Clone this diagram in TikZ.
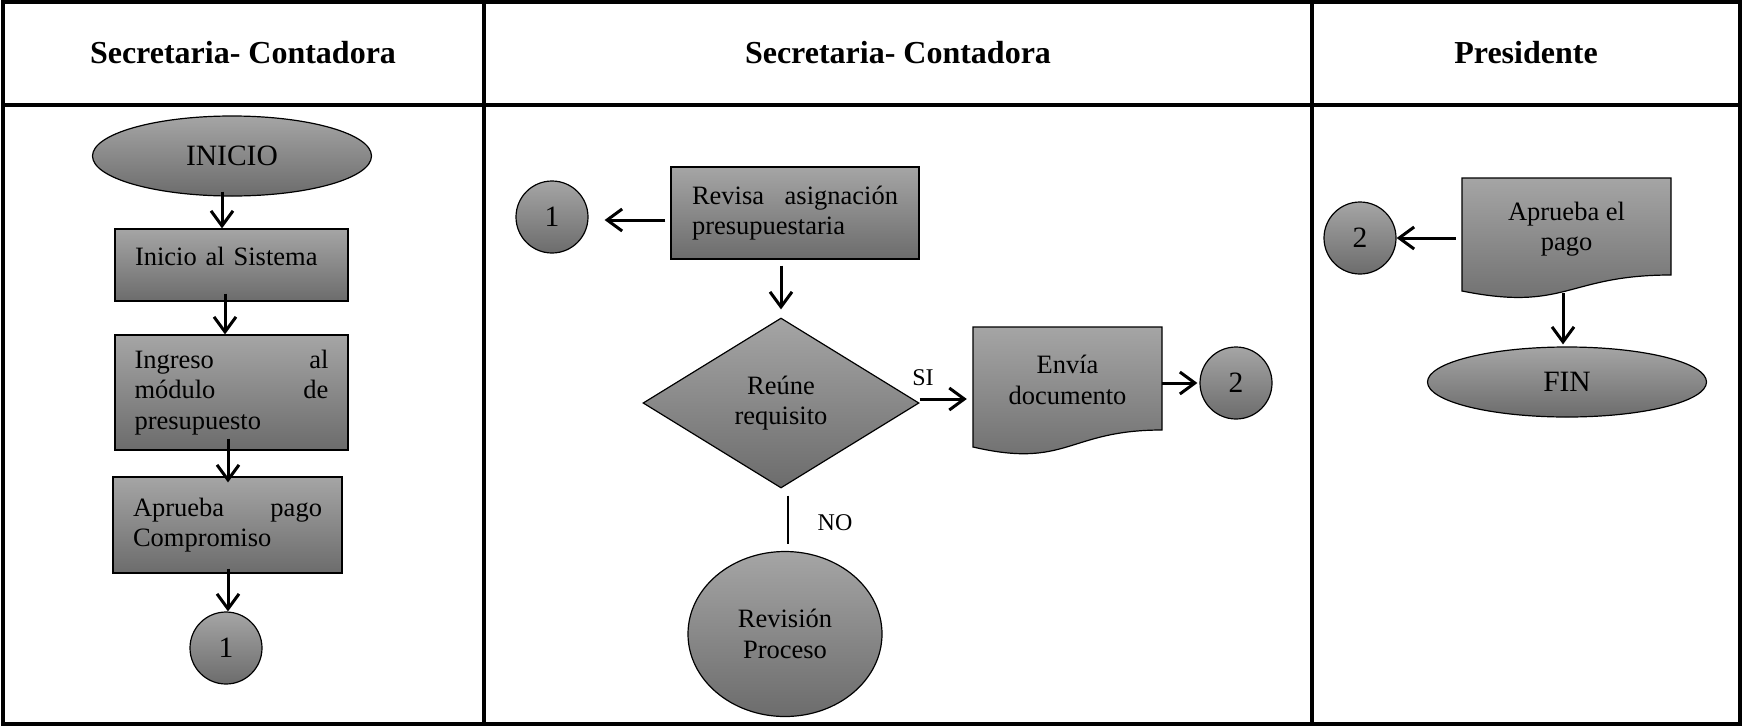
\documentclass[tikz,border=0pt]{standalone}
\usepackage{fontspec}
\setmainfont{Liberation Serif}
\usetikzlibrary{shapes.geometric,arrows.meta}
\definecolor{gtop}{RGB}{165,165,165}
\definecolor{gbot}{RGB}{108,108,108}
\newcommand\bodyfs{\fontsize{26.5}{30.5}\selectfont}
\newcommand\bigfs{\fontsize{29.5}{34}\selectfont}
\newcommand\headfs{\fontsize{32}{38}\selectfont\bfseries}
\newcommand\lblfs{\fontsize{24}{28}\selectfont}
\tikzset{
  tbl/.style={line width=3.5pt},
  fillshade/.style={top color=gtop, bottom color=gbot},
  procbox/.style={draw, line width=1.2pt, fillshade, rectangle, inner ysep=0pt, align=left, font=\bodyfs},
  conn/.style={draw, line width=1.2pt, fillshade, circle, minimum size=72pt, inner sep=0pt, font=\bigfs},
  term/.style={draw, line width=1.2pt, fillshade, ellipse, inner sep=0pt, font=\bigfs},
  docshape/.style={draw, line width=1.2pt, fillshade},
  doctext/.style={rectangle, inner sep=0pt, align=center, font=\bodyfs},
  arr/.style={line width=3pt, -{Straight Barb[length=15pt,width=22pt]}},
  plain/.style={line width=1.3pt},
  lbl/.style={font=\lblfs, inner sep=0pt},
  head/.style={font=\headfs, inner sep=0pt}
}
\begin{document}
\begin{tikzpicture}[x=1pt,y=-1pt]
\useasboundingbox (0,0) rectangle (1742,726);
% table
\draw[tbl] (3,2) rectangle (1740,724);
\draw[tbl] (3,105) -- (1740,105);
\draw[tbl] (484,2) -- (484,724);
\draw[tbl] (1312,2) -- (1312,724);
\node[head] (h1) at (243,53) {Secretaria- Contadora};
\node[head] (h2) at (898,53) {Secretaria- Contadora};
\node[head] (h3) at (1526,53) {Presidente};
% column 1
\node[term, minimum width=279pt, minimum height=80pt] (ini) at (232,156) {INICIO};
\node[procbox, minimum width=233pt, minimum height=72pt, text width=193pt, inner xsep=20pt] (sis) at (231.5,265) {\smash{Inicio al Sistema}};
\node[procbox, minimum width=233pt, minimum height=115pt, text width=194pt, inner xsep=19.5pt] (ing) at (231.5,392.5) {Ingreso\hfill al\\m\'odulo\hfill de\\presupuesto};
\node[procbox, minimum width=229pt, minimum height=96pt, text width=189pt, inner xsep=20pt] (apr) at (227.5,525) {Aprueba\hfill pago\\Compromiso};
\node[conn] (c1a) at (226,648) {1};
\draw[arr] ([xshift=-10pt,yshift=5pt]ini.south) -- ([xshift=-9.5pt]sis.north);
\draw[arr] ([xshift=-6.5pt,yshift=8pt]sis.south) -- ([xshift=-6.5pt]ing.north);
\draw[arr] ([xshift=-3.5pt,yshift=12pt]ing.south) -- ([xshift=0.5pt,yshift=-6pt]apr.north);
\draw[arr] ([xshift=0.5pt,yshift=5pt]apr.south) -- ([xshift=2pt]c1a.north);
% column 2
\node[conn] (c1b) at (552,217) {1};
\node[procbox, minimum width=248pt, minimum height=92pt, text width=206pt, inner xsep=21pt] (revb) at (795,213) {Revisa\hfill asignaci\'on\\presupuestaria};
\node[diamond, draw, line width=1.2pt, fillshade, minimum width=276pt, minimum height=170pt, inner sep=0pt, align=center, font=\bodyfs] (dec) at (781,403) {Re\'une\\requisito};
\path[docshape] (973,327) -- (1162,327) -- (1162,430) .. controls (1067.5,430) and (1067.5,469) .. (973,447) -- cycle;
\node[doctext, minimum width=189pt, minimum height=20pt] (env) at (1067.5,380) {Env\'ia\\documento};
\node[conn] (c2a) at (1236,383) {2};
\node[term, minimum width=194pt, minimum height=165pt, align=center, font=\bodyfs] (revp) at (785,634) {Revisi\'on\\Proceso};
\draw[arr] ([xshift=-5pt,yshift=-7pt]revb.west) -- ([xshift=16pt,yshift=-3pt]c1b.east);
\draw[arr] ([xshift=-14pt,yshift=-6pt]revb.south) -- ([yshift=8pt]dec.north);
\draw[arr] ([yshift=4pt]dec.east) -- ([yshift=-19pt,xshift=-6pt]env.west);
\draw[arr] ([yshift=-3pt]env.east) -- ([xshift=-2pt]c2a.west);
\draw[plain] ([xshift=7pt,yshift=-7pt]dec.south) -- ([xshift=3pt,yshift=7pt]revp.north);
\node[lbl] (si) at (923,378) {SI};
\node[lbl] (no) at (835,523) {NO};
% column 3
\path[docshape] (1462,178) -- (1671,178) -- (1671,275) .. controls (1566.5,275) and (1566.5,312) .. (1462,291) -- cycle;
\node[doctext, minimum width=209pt, minimum height=128pt] (apb) at (1566.5,229) {Aprueba el\\pago};
\node[conn] (c2b) at (1360,238) {2};
\node[term, minimum width=279pt, minimum height=70pt] (fin) at (1567,382) {FIN};
\draw[arr] ([xshift=-6pt,yshift=-9pt]apb.west) -- ([yshift=0pt]c2b.east);
\draw[arr] ([xshift=-3.5pt]apb.south) -- ([xshift=-4pt,yshift=2pt]fin.north);
\end{tikzpicture}
\end{document}
